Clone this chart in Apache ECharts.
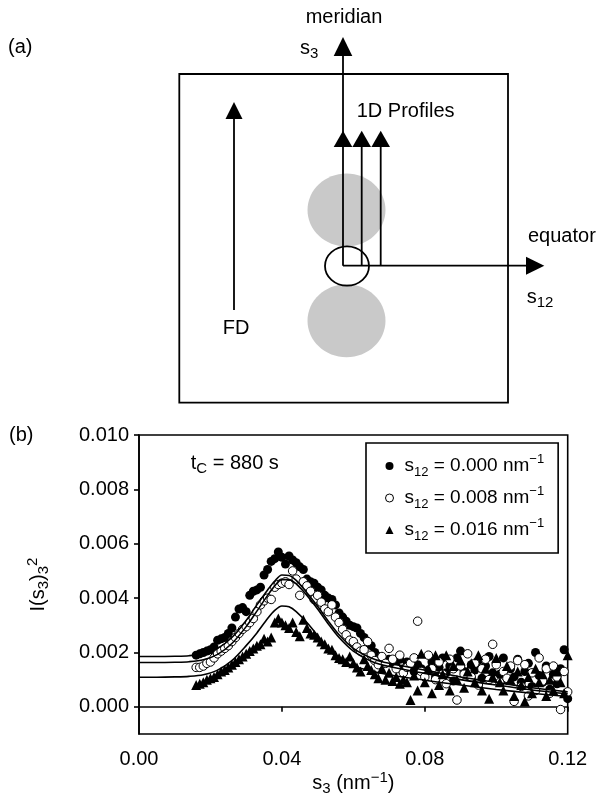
<!DOCTYPE html>
<html><head><meta charset="utf-8">
<script src="https://cdn.jsdelivr.net/npm/echarts@6/dist/echarts.min.js"></script>
<style>html,body{margin:0;padding:0;background:#fff}#c{width:600px;height:797px}</style>
</head><body><div id="c"></div>
<script>
const FONT = '"Liberation Sans", Arial, Helvetica, sans-serif';

// ---- data (panel b) ----
const s3 = [
0.016,0.017,0.018,0.019,0.020,0.021,0.022,0.023,0.024,0.025,
0.026,0.027,0.028,0.029,0.030,0.031,0.032,0.033,0.034,0.035,
0.036,0.037,0.038,0.039,0.040,0.041,0.042,0.043,0.044,0.045,
0.046,0.047,0.048,0.049,0.050,0.051,0.052,0.053,0.054,0.055,
0.056,0.057,0.058,0.059,0.060,0.061,0.062,0.063,0.064,0.065,
0.066,0.067,0.068,0.069,0.070,0.071,0.072,0.073,0.074,0.075,
0.076,0.077,0.078,0.079,0.080,0.081,0.082,0.083,0.084,0.085,
0.086,0.087,0.088,0.089,0.090,0.091,0.092,0.093,0.094,0.095,
0.096,0.097,0.098,0.099,0.100,0.101,0.102,0.103,0.104,0.105,
0.106,0.107,0.108,0.109,0.110,0.111,0.112,0.113,0.114,0.115,
0.116,0.117,0.118,0.119,0.120];

// s12 = 0.000 nm-1 (filled circles)
const filled = [
0.00190,0.00195,0.00200,0.00205,0.00210,0.00220,0.00245,0.00250,0.00255,0.00270,
0.00290,0.00330,0.00360,0.00365,0.00350,0.00410,0.00425,0.00430,0.00440,0.00485,
0.00505,0.00535,0.00545,0.00570,0.00550,0.00525,0.00555,0.00540,0.00530,0.00515,
0.00505,0.00470,0.00460,0.00455,0.00440,0.00430,0.00410,0.00400,0.00395,0.00375,
0.00345,0.00330,0.00315,0.00300,0.00295,0.00290,0.00270,0.00255,0.00240,0.00225,
0.00200,0.00185,0.00180,0.00165,0.00175,0.00160,0.00150,0.00175,0.00140,0.00165,
0.00150,0.00130,0.00155,0.00140,0.00120,0.00135,0.00165,0.00110,0.00145,0.00180,
0.00125,0.00150,0.00095,0.00180,0.00205,0.00130,0.00115,0.00155,0.00135,0.00170,
0.00105,0.00150,0.00185,0.00125,0.00160,0.00120,0.00180,0.00100,0.00140,0.00110,
0.00175,0.00090,0.00130,0.00160,0.00075,0.00200,0.00115,0.00090,0.00150,0.00065,
0.00120,0.00085,0.00140,0.00210,0.00030];

// s12 = 0.008 nm-1 (open circles)
const openC = [
0.00145,0.00145,0.00150,0.00160,0.00165,0.00180,0.00195,0.00205,0.00215,0.00225,
0.00240,0.00255,0.00270,0.00285,0.00295,0.00310,0.00325,0.00350,0.00375,0.00390,
0.00400,0.00395,0.00440,0.00450,0.00455,0.00460,0.00450,0.00500,0.00470,0.00410,
0.00460,0.00445,0.00425,0.00395,0.00410,0.00385,0.00360,0.00350,0.00375,0.00330,
0.00310,0.00285,0.00265,0.00245,0.00240,0.00220,0.00205,0.00210,0.00240,0.00190,
0.00170,0.00155,0.00185,0.00160,0.00215,0.00175,0.00140,0.00190,0.00125,0.00145,
0.00160,0.00180,0.00315,0.00130,0.00110,0.00190,0.00140,0.00100,0.00165,0.00120,
0.00085,0.00175,0.00140,0.00025,0.00150,0.00120,0.00195,0.00110,0.00160,0.00080,
0.00140,0.00175,0.00100,0.00230,0.00155,0.00090,0.00130,0.00105,0.00150,0.00020,
0.00170,0.00075,0.00155,0.00040,0.00125,0.00060,0.00180,0.00095,0.00140,0.00050,
0.00150,0.00110,-0.00010,0.00130,0.00055];

// s12 = 0.016 nm-1 (triangles)
const tri = [
0.00080,0.00085,0.00090,0.00100,0.00105,0.00110,0.00120,0.00130,0.00135,0.00145,
0.00155,0.00165,0.00175,0.00185,0.00195,0.00205,0.00215,0.00225,0.00230,0.00250,
0.00240,0.00255,0.00310,0.00325,0.00310,0.00300,0.00290,0.00310,0.00275,0.00260,
0.00320,0.00290,0.00270,0.00265,0.00255,0.00240,0.00230,0.00215,0.00210,0.00190,
0.00180,0.00175,0.00165,0.00185,0.00160,0.00145,0.00130,0.00175,0.00150,0.00135,
0.00120,0.00105,0.00140,0.00100,0.00125,0.00095,0.00110,0.00085,0.00100,0.00090,
0.00025,0.00115,0.00060,0.00195,0.00090,0.00140,0.00050,0.00190,0.00080,0.00120,
0.00190,0.00060,0.00150,0.00100,0.00170,0.00070,0.00130,0.00160,0.00090,0.00190,
0.00060,0.00140,0.00030,0.00110,0.00180,0.00090,0.00060,0.00150,0.00100,0.00040,
0.00130,0.00080,0.00020,0.00110,0.00050,0.00140,0.00090,0.00120,0.00040,0.00100,
0.00060,0.00130,0.00090,0.00050,0.00190];

// fitted curves
const fitS3 = [0,0.005,0.010,0.014,0.018,0.022,0.026,0.030,0.033,0.036,0.038,0.040,0.042,0.044,0.047,0.050,0.053,0.056,0.060,0.065,0.070,0.080,0.090,0.100,0.110,0.120];
const fitFilled = [0.00185,0.00185,0.00186,0.00188,0.00195,0.00215,0.00255,0.00318,0.00375,0.00430,0.00463,0.00485,0.00483,0.00465,0.00420,0.00370,0.00315,0.00265,0.00215,0.00180,0.00160,0.00135,0.00110,0.00090,0.00070,0.00055];
const fitOpen = [0.00163,0.00163,0.00164,0.00166,0.00173,0.00193,0.00233,0.00295,0.00352,0.00410,0.00445,0.00468,0.00468,0.00452,0.00410,0.00360,0.00305,0.00255,0.00205,0.00168,0.00148,0.00123,0.00100,0.00080,0.00062,0.00048];
const fitTri = [0.00109,0.00109,0.00110,0.00112,0.00118,0.00135,0.00170,0.00225,0.00272,0.00325,0.00355,0.00371,0.00368,0.00350,0.00310,0.00262,0.00212,0.00175,0.00150,0.00132,0.00118,0.00098,0.00080,0.00064,0.00050,0.00038];

const xTicks = [0, 0.04, 0.08, 0.12];
const yTicks = [0, 0.002, 0.004, 0.006, 0.008, 0.010];
const seriesNames = ['s12 = 0.000 nm-1', 's12 = 0.008 nm-1', 's12 = 0.016 nm-1'];
const legendValues = ['0.000', '0.008', '0.016'];

const pair = (xs, ys) => xs.map((x, i) => [x, ys[i]]);

const rich = {
  m: {fontSize: 20, fontFamily: FONT, color: '#000', lineHeight: 26},
  sub: {fontSize: 15, fontFamily: FONT, color: '#000', verticalAlign: 'bottom', lineHeight: 15},
  sup: {fontSize: 15, fontFamily: FONT, color: '#000', verticalAlign: 'top', lineHeight: 21}
};
const lrich = {
  s: {fontSize: 19, fontFamily: FONT, color: '#000', lineHeight: 26, padding: [0, 0, 0, 6]},
  m: {fontSize: 19, fontFamily: FONT, color: '#000', lineHeight: 26},
  sub: {fontSize: 13, fontFamily: FONT, color: '#000', verticalAlign: 'bottom', lineHeight: 13},
  sup: {fontSize: 13, fontFamily: FONT, color: '#000', verticalAlign: 'top', lineHeight: 20}
};

function txt(x, y, text, align, r) {
  const st = {x: x, y: y, text: text, fontSize: 20, fontFamily: FONT, fill: '#000',
    align: align, textAlign: align, verticalAlign: 'middle', textVerticalAlign: 'middle'};
  if (r) st.rich = r;
  return {type: 'text', style: st, z: 10};
}
const K = '#000', LW = 1.8;
function ln(x1, y1, x2, y2) { return {type: 'line', shape: {x1, y1, x2, y2}, style: {stroke: K, lineWidth: LW}, z: 5}; }
function tri3(p) { return {type: 'polygon', shape: {points: p}, style: {fill: K}, z: 6}; }

const schematic = [
  {type: 'ellipse', shape: {cx: 346.5, cy: 210, rx: 39, ry: 36.5}, style: {fill: '#c9c9c9'}, z: 1},
  {type: 'ellipse', shape: {cx: 346.5, cy: 320.8, rx: 39, ry: 36.5}, style: {fill: '#c9c9c9'}, z: 1},
  {type: 'rect', shape: {x: 179.3, y: 74, width: 328.7, height: 328.7}, style: {fill: 'none', stroke: K, lineWidth: LW}, z: 5},
  // FD arrow
  ln(234, 310, 234, 118), tri3([[234, 102], [225.5, 119], [242.5, 119]]),
  // meridian
  ln(343, 265.7, 343, 55), tri3([[343, 37], [333.7, 56], [352.3, 56]]),
  // 1D profile arrows
  tri3([[343, 130.7], [333.7, 147], [352.3, 147]]),
  ln(361.7, 265.7, 361.7, 146), tri3([[361.7, 130.7], [352.4, 147], [371, 147]]),
  ln(380.7, 265.7, 380.7, 146), tri3([[380.7, 130.7], [371.4, 147], [390, 147]]),
  // equator
  ln(343, 265.7, 527, 265.7), tri3([[544.3, 265.7], [526, 256.7], [526, 274.7]]),
  {type: 'ellipse', shape: {cx: 347, cy: 266, rx: 22, ry: 19.7}, style: {fill: 'none', stroke: K, lineWidth: LW}, z: 7},
  txt(8, 47, '(a)', 'left'),
  txt(344, 17, 'meridian', 'center'),
  txt(300, 48, '{m|s}{sub|3}', 'left', rich),
  txt(356.7, 111.5, '1D Profiles', 'left'),
  txt(236, 328, 'FD', 'center'),
  txt(528, 236, 'equator', 'left'),
  txt(526.7, 297, '{m|s}{sub|12}', 'left', rich),
  txt(9, 435, '(b)', 'left'),
  txt(190.7, 463, '{m|t}{sub|C}{m| = 880 s}', 'left', rich)
];

const chart = echarts.init(document.getElementById('c'), null, {renderer: 'canvas'});
chart.setOption({
  animation: false,
  backgroundColor: '#fff',
  textStyle: {fontFamily: FONT},
  graphic: {elements: schematic},
  grid: {left: 139, right: 32.3, top: 435, bottom: 61.7, show: true, borderColor: '#000', borderWidth: 1.6, backgroundColor: 'transparent'},
  legend: {
    orient: 'vertical', left: 366, top: 443,
    padding: [10, 14, 10, 19], itemGap: 6, itemWidth: 8, itemHeight: 8,
    borderColor: '#000', borderWidth: 1.6, backgroundColor: '#fff',
    itemStyle: {borderWidth: 1},
    data: [{name: seriesNames[0], icon: 'circle'}, {name: seriesNames[1], icon: 'circle'}, {name: seriesNames[2], icon: 'triangle'}],
    formatter: function (name) {
      const i = seriesNames.indexOf(name);
      return '{s|s}{sub|12}{m| = ' + legendValues[i] + ' nm}{sup|\u22121}';
    },
    textStyle: {rich: lrich},
    selectedMode: false
  },
  xAxis: {
    type: 'value', min: 0, max: 0.12,
    name: '{m|s}{sub|3}{m| (nm}{sup|\u22121}{m|)}',
    nameLocation: 'middle', nameGap: 36,
    nameTextStyle: {rich: rich},
    splitLine: {show: false},
    axisLine: {show: true, lineStyle: {color: '#000', width: 1.6}},
    axisTick: {show: true, length: 5, customValues: xTicks, lineStyle: {color: '#000', width: 1.6}},
    axisLabel: {customValues: xTicks, margin: 15, fontSize: 20, color: '#000', fontFamily: FONT, formatter: v => v.toFixed(2)}
  },
  yAxis: {
    type: 'value', min: -0.001, max: 0.010,
    name: '{m|I(s}{sub|3}{m|)}{sub|3}{sup|2}',
    nameLocation: 'middle', nameGap: 88, nameRotate: 90,
    nameTextStyle: {rich: rich},
    splitLine: {show: false},
    axisLine: {show: true, lineStyle: {color: '#000', width: 1.6}},
    axisTick: {show: true, length: 5, customValues: yTicks, lineStyle: {color: '#000', width: 1.6}},
    axisLabel: {customValues: yTicks, margin: 10, fontSize: 20, color: '#000', fontFamily: FONT, formatter: v => v.toFixed(3)}
  },
  series: [
    {type: 'scatter', name: seriesNames[0], data: pair(s3, filled), symbol: 'circle', symbolSize: 9, itemStyle: {color: '#000', opacity: 1}, z: 2},
    {type: 'scatter', name: seriesNames[1], data: pair(s3, openC), symbol: 'circle', symbolSize: 8.5, itemStyle: {color: '#fff', borderColor: '#000', borderWidth: 1, opacity: 1}, z: 2},
    {type: 'scatter', name: seriesNames[2], data: pair(s3, tri), symbol: 'triangle', symbolSize: 10, itemStyle: {color: '#000', opacity: 1}, z: 2},
    {type: 'line', name: 'fit0', data: pair(fitS3, fitFilled), showSymbol: false, smooth: 0.3, lineStyle: {color: '#000', width: 1.6}, silent: true, z: 3},
    {type: 'line', name: 'fit1', data: pair(fitS3, fitOpen), showSymbol: false, smooth: 0.3, lineStyle: {color: '#000', width: 1.6}, silent: true, z: 3},
    {type: 'line', name: 'fit2', data: pair(fitS3, fitTri), showSymbol: false, smooth: 0.3, lineStyle: {color: '#000', width: 1.6}, silent: true, z: 3}
  ]
});
</script>
</body></html>
